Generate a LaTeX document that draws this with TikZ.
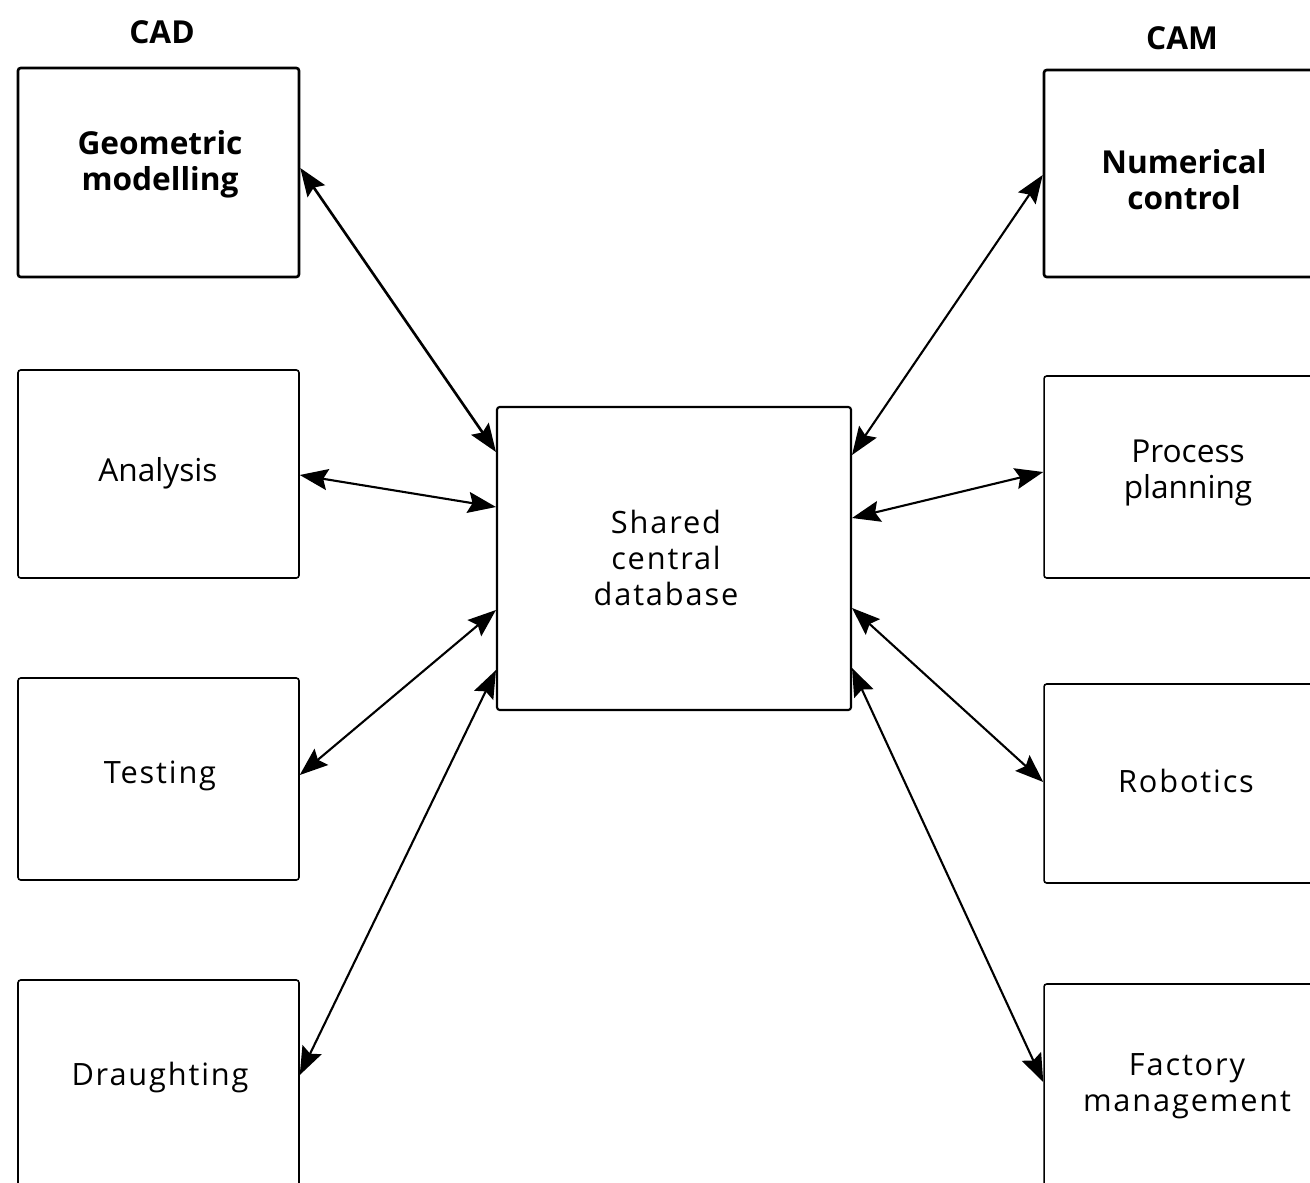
\documentclass[tikz,border=0pt]{standalone}
\usepackage{fontspec}
\setmainfont{Open Sans}
\newfontfamily\spaced[LetterSpace=6]{Open Sans}
\usetikzlibrary{arrows.meta}
\begin{document}
\begin{tikzpicture}[x=0.02cm,y=-0.02cm,
  box/.style={draw, line width=0.9pt, rounded corners=1.5pt, inner sep=0pt},
  thickbox/.style={box, line width=1.5pt},
  txt/.style={align=center, inner sep=0pt, font=\fontsize{18}{20.5}\selectfont},
  lighttxt/.style={align=center, inner sep=0pt, font=\fontsize{17.5}{20.5}\selectfont\spaced},
  boldtxt/.style={align=center, inner sep=0pt, font=\fontsize{18}{20.5}\selectfont\bfseries},
  >={Stealth[length=16pt,width=12pt,inset=2.5pt]},
  link/.style={line width=1.2pt, <->}
]
\useasboundingbox (0,0) rectangle (1310,1182);
\clip (0,0) rectangle (1310,1182);

% headings
\node[boldtxt] (cad) at (162,32) {CAD};
\node[boldtxt] (cam) at (1182,38) {CAM};

% left column
\node[thickbox, minimum width=5.62cm, minimum height=4.18cm] (geo) at (158.5,172.5) {};
\node[boldtxt] (geotxt) at (160,164) {Geometric\\modelling};
\node[box, minimum width=5.62cm, minimum height=4.16cm] (ana) at (158.5,474) {};
\node[txt] (anatxt) at (158,473) {Analysis};
\node[box, minimum width=5.62cm, minimum height=4.04cm] (tes) at (158.5,779) {};
\node[lighttxt] (testxt) at (160,776) {Testing};
\node[box, minimum width=5.62cm, minimum height=4.3cm] (dra) at (158.5,1087.5) {};
\node[lighttxt] (dratxt) at (160,1077) {Draughting};

% centre
\node[box, line width=1.2pt, minimum width=7.08cm, minimum height=6.06cm] (db) at (674,558.5) {};
\node[lighttxt] (dbtxt) at (666,558) {Shared\\central\\database};

% right column
\node[thickbox, minimum width=5.72cm, minimum height=4.14cm] (num) at (1187,173.5) {};
\node[boldtxt] (numtxt) at (1184,180) {Numerical\\control};
\node[box, minimum width=5.72cm, minimum height=4.04cm] (pro) at (1187,477) {};
\node[txt] (protxt) at (1188,473) {Process\\planning};
\node[box, minimum width=5.72cm, minimum height=3.98cm] (rob) at (1187,783.5) {};
\node[lighttxt] (robtxt) at (1186,781) {Robotics};
\node[box, minimum width=5.72cm, minimum height=4.22cm] (fac) at (1187,1089.5) {};
\node[lighttxt] (factxt) at (1187,1086) {Factory\\management};

% connectors
\draw[link, line width=1.5pt] (geo.east |- 0,168) -- (db.west |- 0,452);
\draw[link] (ana.east |- 0,475) -- (db.west |- 0,507);
\draw[link] (tes.east |- 0,775) -- (db.west |- 0,610);
\draw[link] (dra.east |- 0,1075) -- (db.west |- 0,670);
\draw[link] (num.west |- 0,175) -- (db.east |- 0,455);
\draw[link] (pro.west |- 0,472) -- (db.east |- 0,518);
\draw[link] (rob.west |- 0,782) -- (db.east |- 0,608);
\draw[link] (fac.west |- 0,1082) -- (db.east |- 0,668);
\end{tikzpicture}
\end{document}
